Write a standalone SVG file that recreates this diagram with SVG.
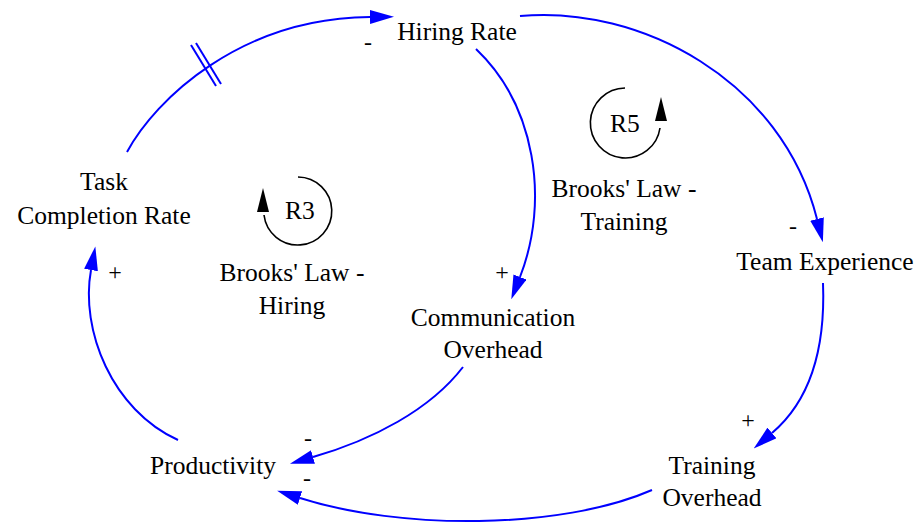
<svg xmlns="http://www.w3.org/2000/svg" width="919" height="529" viewBox="0 0 919 529">
<defs>
<marker id="arr" viewBox="0 0 10 10" refX="0" refY="5" markerUnits="userSpaceOnUse" markerWidth="24" markerHeight="14" orient="auto" preserveAspectRatio="none">
<path d="M0,0 L10,5 L0,10 z" fill="#0000ff"/>
</marker>
</defs>
<style>
text{font-family:"Liberation Serif","Times New Roman",serif;font-size:25.5px;fill:#000;text-anchor:middle}
.pol{font-size:24px}
.c{fill:none;stroke:#0000ff;stroke-width:2;marker-end:url(#arr)}
.d{fill:none;stroke:#0000ff;stroke-width:2}
.loop{fill:none;stroke:#000;stroke-width:1.6}
</style>
<rect width="919" height="529" fill="#fff"/>
<g id="connectors">
<path class="c" d="M127,152 C155,100 240,18 370,17"/>
<line class="d" x1="191" y1="45" x2="216" y2="86"/>
<line class="d" x1="196" y1="43" x2="221" y2="84"/>
<path class="c" d="M476,49 C535,105 550,200 520,277"/>
<path class="c" d="M520,16 C640,5 782,80 817,219"/>
<path class="c" d="M823,283 C826,360 805,405 772,433"/>
<path class="c" d="M463,367 C430,410 372,440 313,457"/>
<path class="c" d="M652,490 C560,530 400,530 300,498"/>
<path class="c" d="M178,440 C112,410 80,330 91,270"/>
<text class="pol" x="368" y="50">-</text>
<text class="pol" x="502" y="280">+</text>
<text class="pol" x="793" y="234">-</text>
<text class="pol" x="748" y="428">+</text>
<text class="pol" x="308" y="446">-</text>
<text class="pol" x="307" y="486">-</text>
<text class="pol" x="115" y="280">+</text>
</g>
<g id="hiring-rate"><text x="457" y="40">Hiring Rate</text></g>
<g id="task-completion-rate"><text x="104" y="190">Task</text><text x="104" y="224">Completion Rate</text></g>
<g id="communication-overhead"><text x="493" y="326">Communication</text><text x="493" y="358">Overhead</text></g>
<g id="team-experience"><text x="825" y="270">Team Experience</text></g>
<g id="training-overhead"><text x="712" y="474">Training</text><text x="712" y="506">Overhead</text></g>
<g id="productivity"><text x="213" y="474">Productivity</text></g>
<g id="loop-r3">
<path class="loop" d="M298,177 A34,34 0 1 1 264,215"/>
<polygon points="263,188 257,212 269,212" fill="#000"/>
<text x="300" y="219">R3</text>
<text x="292" y="281">Brooks' Law -</text>
<text x="292" y="314">Hiring</text>
</g>
<g id="loop-r5">
<path class="loop" d="M625,88 A35,35 0 1 0 660,128"/>
<polygon points="661,97 655,121 667,121" fill="#000"/>
<text x="625" y="132">R5</text>
<text x="624" y="197">Brooks' Law -</text>
<text x="624" y="230">Training</text>
</g>
</svg>
